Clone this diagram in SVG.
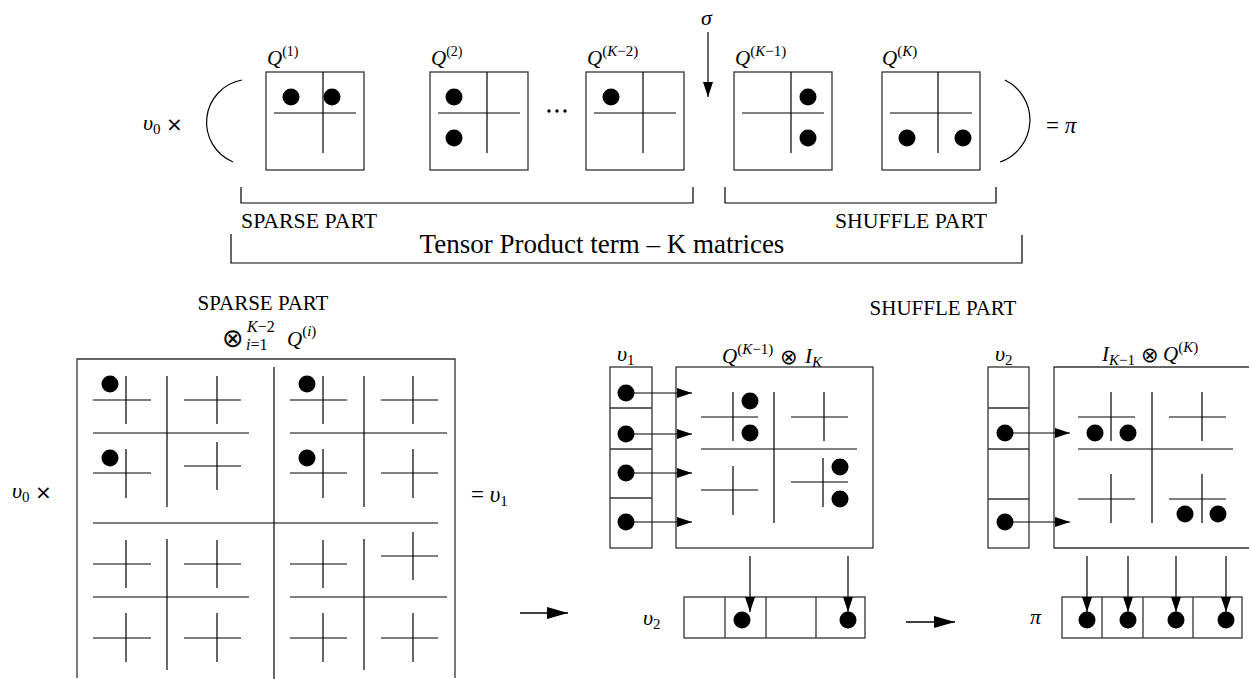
<svg xmlns="http://www.w3.org/2000/svg" width="1250" height="679" viewBox="0 0 1250 679">
  <defs>
    <style>
      .box { fill: none; stroke: #333; stroke-width: 1.3; }
      .ln { stroke: #000; stroke-width: 1.2; fill: none; }
      .dot { fill: #000; }
      .t { font-family: "Liberation Serif", "Times New Roman", serif; fill: #000; }
      .m { font-family: "Liberation Serif", "Times New Roman", serif; font-style: italic; fill: #000; }
      .r { font-family: "Liberation Serif", "Times New Roman", serif; font-style: normal; fill: #000; }
      .op { font-family: "DejaVu Sans", sans-serif; font-style: normal; fill: #000; }
      .arr { stroke: #000; stroke-width: 1.2; fill: none; marker-end: url(#head); }
      .bigarr { stroke: #000; stroke-width: 1.5; fill: none; marker-end: url(#bighead); }
    </style>
    <marker id="head" markerUnits="userSpaceOnUse" markerWidth="16" markerHeight="10" refX="15" refY="5" orient="auto">
      <path d="M0,0 L15,5 L0,10 z" fill="#000"/>
    </marker>
    <marker id="bighead" markerUnits="userSpaceOnUse" markerWidth="22" markerHeight="12" refX="21" refY="6" orient="auto">
      <path d="M0,0 L21,6 L0,12 z" fill="#000"/>
    </marker>
  </defs>
  <rect width="1250" height="679" fill="#fff"/>

  <!-- ===== top row: product of K factor matrices ===== -->
  <g id="v0-top">
    <text class="m" x="143" y="130" font-size="22">υ<tspan class="r" font-size="15" dy="4">0</tspan></text>
    <text class="op" x="166" y="131" font-size="20">×</text>
  </g>
  <g id="paren-left"><path class="ln" d="M242,80 A43,43 0 0 0 233,162"/></g>
  <g id="paren-right"><path class="ln" d="M1005,80 A44.5,44.5 0 0 1 1000,162"/></g>
  <g id="eq-pi">
    <text class="r" x="1046" y="133" font-size="23">= <tspan class="m">π</tspan></text>
  </g>

  <g id="Q1">
    <text class="m" x="267" y="65" font-size="21">Q<tspan class="r" font-size="14" dy="-9">(1)</tspan></text>
    <rect class="box" x="266" y="72" width="98" height="98"/>
    <line class="ln" x1="274" y1="113" x2="356" y2="113"/>
    <line class="ln" x1="323" y1="72" x2="323" y2="153"/>
    <circle class="dot" cx="291" cy="97" r="8.5"/>
    <circle class="dot" cx="332" cy="97" r="8.5"/>
  </g>
  <g id="Q2">
    <text class="m" x="431" y="65" font-size="21">Q<tspan class="r" font-size="14" dy="-9">(2)</tspan></text>
    <rect class="box" x="430" y="72" width="98" height="98"/>
    <line class="ln" x1="438" y1="113" x2="520" y2="113"/>
    <line class="ln" x1="487" y1="72" x2="487" y2="153"/>
    <circle class="dot" cx="454" cy="97" r="8.5"/>
    <circle class="dot" cx="454" cy="138" r="8.5"/>
  </g>
  <g id="ellipsis">
    <circle class="dot" cx="549" cy="111" r="1.7"/>
    <circle class="dot" cx="557" cy="111" r="1.7"/>
    <circle class="dot" cx="565" cy="111" r="1.7"/>
  </g>
  <g id="QK-2">
    <text class="m" x="587" y="65" font-size="21">Q<tspan class="r" font-size="15" dy="-9">(</tspan><tspan font-size="15">K</tspan><tspan class="r" font-size="15">−2)</tspan></text>
    <rect class="box" x="586" y="72" width="98" height="98"/>
    <line class="ln" x1="594" y1="113" x2="676" y2="113"/>
    <line class="ln" x1="643" y1="72" x2="643" y2="153"/>
    <circle class="dot" cx="611" cy="97" r="8.5"/>
  </g>
  <g id="sigma">
    <text class="m" x="701" y="25" font-size="22">σ</text>
  </g>
  <g id="QK-1">
    <text class="m" x="735" y="65" font-size="21">Q<tspan class="r" font-size="15" dy="-9">(</tspan><tspan font-size="15">K</tspan><tspan class="r" font-size="15">−1)</tspan></text>
    <rect class="box" x="734" y="72" width="98" height="98"/>
    <line class="ln" x1="742" y1="113" x2="824" y2="113"/>
    <line class="ln" x1="791" y1="72" x2="791" y2="153"/>
    <circle class="dot" cx="808" cy="97" r="8.5"/>
    <circle class="dot" cx="808" cy="138" r="8.5"/>
  </g>
  <g id="QK">
    <text class="m" x="882" y="65" font-size="21">Q<tspan class="r" font-size="15" dy="-9">(</tspan><tspan font-size="15">K</tspan><tspan class="r" font-size="15">)</tspan></text>
    <rect class="box" x="882" y="72" width="98" height="98"/>
    <line class="ln" x1="890" y1="113" x2="972" y2="113"/>
    <line class="ln" x1="938" y1="72" x2="938" y2="153"/>
    <circle class="dot" cx="907" cy="138" r="8.5"/>
    <circle class="dot" cx="963" cy="138" r="8.5"/>
  </g>

  <!-- braces under the factor row -->
  <g id="brace-sparse">
    <path class="ln" d="M241,187 V203 H693 V187"/>
    <text class="t" x="241" y="228" font-size="21" textLength="136" lengthAdjust="spacingAndGlyphs">SPARSE PART</text>
  </g>
  <g id="brace-shuffle">
    <path class="ln" d="M725,187 V203 H996 V187"/>
    <text class="t" x="987" y="228" font-size="21" text-anchor="end" textLength="152" lengthAdjust="spacingAndGlyphs">SHUFFLE PART</text>
  </g>
  <g id="brace-tensor">
    <path class="ln" d="M231,234 V263 H1022 V235"/>
    <text class="t" x="602" y="253" font-size="27" text-anchor="middle">Tensor Product term – K matrices</text>
  </g>

  <!-- ===== bottom left: sparse part ===== -->
  <g id="sparse-title">
    <text class="t" x="263" y="310" font-size="21" text-anchor="middle">SPARSE PART</text>
    <text class="op" x="222" y="347" font-size="26">⊗</text>
    <text class="m" x="247" y="332" font-size="16">K<tspan class="r">−2</tspan></text>
    <text class="m" x="246" y="350" font-size="16">i<tspan class="r">=1</tspan></text>
    <text class="m" x="287" y="346" font-size="21">Q<tspan class="r" font-size="15" dy="-10">(</tspan><tspan font-size="15">i</tspan><tspan class="r" font-size="15">)</tspan></text>
  </g>
  <g id="v0-bottom">
    <text class="m" x="12" y="498" font-size="22">υ<tspan class="r" font-size="15" dy="4">0</tspan></text>
    <text class="op" x="35" y="499" font-size="20">×</text>
  </g>
  <g id="sparse-matrix">
    <path class="box" d="M77,678 V359 H455 V678"/>
    <!-- level-1 split -->
    <line class="ln" x1="274" y1="367" x2="274" y2="679"/>
    <line class="ln" x1="93" y1="523" x2="438" y2="523"/>
    <!-- level-2 splits -->
    <line class="ln" x1="167" y1="376" x2="167" y2="507"/>
    <line class="ln" x1="93" y1="433" x2="249" y2="433"/>
    <line class="ln" x1="364" y1="376" x2="364" y2="507"/>
    <line class="ln" x1="290" y1="433" x2="447" y2="433"/>
    <line class="ln" x1="167" y1="539" x2="167" y2="670"/>
    <line class="ln" x1="93" y1="597" x2="249" y2="597"/>
    <line class="ln" x1="364" y1="539" x2="364" y2="670"/>
    <line class="ln" x1="290" y1="597" x2="447" y2="597"/>
    <!-- level-3 crosses, top-left quadrant -->
    <path class="ln" d="M93,400 H151 M126,376 V424"/>
    <path class="ln" d="M184,400 H241 M217,376 V424"/>
    <path class="ln" d="M93,473 H151 M126,449 V498"/>
    <path class="ln" d="M184,466 H241 M217,442 V490"/>
    <!-- top-right quadrant -->
    <path class="ln" d="M290,400 H347 M323,376 V424"/>
    <path class="ln" d="M381,400 H438 M413,376 V424"/>
    <path class="ln" d="M290,473 H347 M323,449 V498"/>
    <path class="ln" d="M381,473 H438 M413,449 V498"/>
    <!-- bottom-left quadrant -->
    <path class="ln" d="M93,564 H151 M126,540 V588"/>
    <path class="ln" d="M184,564 H241 M217,540 V588"/>
    <path class="ln" d="M93,638 H151 M126,613 V662"/>
    <path class="ln" d="M184,638 H241 M217,613 V662"/>
    <!-- bottom-right quadrant -->
    <path class="ln" d="M290,564 H347 M323,540 V588"/>
    <path class="ln" d="M381,556 H438 M413,532 V580"/>
    <path class="ln" d="M290,638 H347 M323,613 V662"/>
    <path class="ln" d="M381,638 H438 M413,613 V662"/>
    <!-- nonzeros -->
    <circle class="dot" cx="110" cy="384" r="8.5"/>
    <circle class="dot" cx="110" cy="458" r="8.5"/>
    <circle class="dot" cx="307" cy="384" r="8.5"/>
    <circle class="dot" cx="307" cy="458" r="8.5"/>
  </g>
  <g id="eq-v1">
    <text class="r" x="471" y="502" font-size="23">= <tspan class="m">υ</tspan><tspan font-size="15" dy="4">1</tspan></text>
  </g>

  <!-- ===== shuffle part ===== -->
  <g id="shuffle-title">
    <text class="t" x="943" y="315" font-size="21" text-anchor="middle">SHUFFLE PART</text>
  </g>

  <g id="v1-vector">
    <text class="m" x="617" y="361" font-size="22">υ<tspan class="r" font-size="15" dy="4">1</tspan></text>
    <rect class="box" x="610" y="367" width="42" height="181"/>
    <line class="box" x1="610" y1="408" x2="652" y2="408"/>
    <line class="box" x1="610" y1="449" x2="652" y2="449"/>
    <line class="box" x1="610" y1="498" x2="652" y2="498"/>
    <circle class="dot" cx="626" cy="393" r="8.5"/>
    <circle class="dot" cx="626" cy="434" r="8.5"/>
    <circle class="dot" cx="626" cy="473" r="8.5"/>
    <circle class="dot" cx="626" cy="522" r="8.5"/>
  </g>
  <g id="QK-1-x-IK">
    <text class="m" x="722" y="363" font-size="21">Q<tspan class="r" font-size="15" dy="-9">(</tspan><tspan font-size="15">K</tspan><tspan class="r" font-size="15">−1)</tspan></text>
    <text class="op" x="780" y="364" font-size="21">⊗</text>
    <text class="m" x="805" y="363" font-size="21">I<tspan font-size="15" dy="4">K</tspan></text>
    <rect class="box" x="676" y="367" width="197" height="181"/>
    <line class="ln" x1="774" y1="392" x2="774" y2="523"/>
    <line class="ln" x1="701" y1="449" x2="857" y2="449"/>
    <path class="ln" d="M701,417 H758 M733,392 V441"/>
    <path class="ln" d="M791,417 H848 M824,392 V441"/>
    <path class="ln" d="M701,490 H758 M733,466 V515"/>
    <path class="ln" d="M791,482 H848 M823,458 V507"/>
    <circle class="dot" cx="750" cy="401" r="8.5"/>
    <circle class="dot" cx="750" cy="433" r="8.5"/>
    <circle class="dot" cx="840" cy="467" r="8.5"/>
    <circle class="dot" cx="840" cy="499" r="8.5"/>
  </g>
  <g id="v2-row">
    <text class="m" x="643" y="625" font-size="22">υ<tspan class="r" font-size="15" dy="4">2</tspan></text>
    <rect class="box" x="684" y="597" width="181" height="41"/>
    <line class="box" x1="725" y1="597" x2="725" y2="638"/>
    <line class="box" x1="766" y1="597" x2="766" y2="638"/>
    <line class="box" x1="816" y1="597" x2="816" y2="638"/>
    <circle class="dot" cx="742" cy="620" r="8.5"/>
    <circle class="dot" cx="848" cy="620" r="8.5"/>
  </g>

  <g id="v2-vector">
    <text class="m" x="995" y="361" font-size="22">υ<tspan class="r" font-size="15" dy="4">2</tspan></text>
    <rect class="box" x="988" y="367" width="41" height="181"/>
    <line class="box" x1="988" y1="408" x2="1029" y2="408"/>
    <line class="box" x1="988" y1="449" x2="1029" y2="449"/>
    <line class="box" x1="988" y1="499" x2="1029" y2="499"/>
    <circle class="dot" cx="1005" cy="433" r="8.5"/>
    <circle class="dot" cx="1005" cy="522" r="8.5"/>
  </g>
  <g id="IK-1-x-QK">
    <text class="m" x="1102" y="361" font-size="21">I<tspan font-size="15" dy="4">K</tspan><tspan class="r" font-size="15">−1</tspan></text>
    <text class="op" x="1141" y="362" font-size="21">⊗</text>
    <text class="m" x="1163" y="361" font-size="21">Q<tspan class="r" font-size="15" dy="-9">(</tspan><tspan font-size="15">K</tspan><tspan class="r" font-size="15">)</tspan></text>
    <path class="box" d="M1249,367 H1054 V548 H1249"/>
    <line class="ln" x1="1152" y1="392" x2="1152" y2="523"/>
    <line class="ln" x1="1078" y1="449" x2="1233" y2="449"/>
    <path class="ln" d="M1078,417 H1135 M1111,392 V441"/>
    <path class="ln" d="M1169,417 H1226 M1202,392 V441"/>
    <path class="ln" d="M1078,499 H1135 M1111,474 V523"/>
    <path class="ln" d="M1169,499 H1226 M1202,474 V523"/>
    <circle class="dot" cx="1095" cy="433" r="8.5"/>
    <circle class="dot" cx="1128" cy="433" r="8.5"/>
    <circle class="dot" cx="1185" cy="514" r="8.5"/>
    <circle class="dot" cx="1218" cy="514" r="8.5"/>
  </g>
  <g id="pi-row">
    <text class="m" x="1030" y="624" font-size="22">π</text>
    <rect class="box" x="1062" y="597" width="180" height="41"/>
    <line class="box" x1="1102" y1="597" x2="1102" y2="638"/>
    <line class="box" x1="1143" y1="597" x2="1143" y2="638"/>
    <line class="box" x1="1193" y1="597" x2="1193" y2="638"/>
    <circle class="dot" cx="1087" cy="620" r="8.5"/>
    <circle class="dot" cx="1128" cy="620" r="8.5"/>
    <circle class="dot" cx="1176" cy="620" r="8.5"/>
    <circle class="dot" cx="1226" cy="620" r="8.5"/>
  </g>

  <!-- ===== connectors ===== -->
  <g id="connectors">
    <line class="arr" x1="708" y1="32" x2="708" y2="97"/>
    <!-- v1 entries into Q(K-1) x I_K -->
    <line class="arr" x1="626" y1="393" x2="692" y2="393"/>
    <line class="arr" x1="626" y1="434" x2="692" y2="434"/>
    <line class="arr" x1="626" y1="473" x2="692" y2="473"/>
    <line class="arr" x1="626" y1="522" x2="692" y2="522"/>
    <!-- result columns into v2 -->
    <line class="arr" x1="750" y1="556" x2="750" y2="612"/>
    <line class="arr" x1="848" y1="556" x2="848" y2="612"/>
    <!-- v2 entries into I_{K-1} x Q(K) -->
    <line class="arr" x1="1005" y1="433" x2="1070" y2="433"/>
    <line class="arr" x1="1005" y1="522" x2="1070" y2="522"/>
    <!-- result columns into pi -->
    <line class="arr" x1="1087" y1="556" x2="1087" y2="612"/>
    <line class="arr" x1="1128" y1="556" x2="1128" y2="612"/>
    <line class="arr" x1="1176" y1="556" x2="1176" y2="612"/>
    <line class="arr" x1="1226" y1="556" x2="1226" y2="612"/>
    <!-- stage arrows -->
    <line class="bigarr" x1="520" y1="613" x2="568" y2="613"/>
    <line class="bigarr" x1="906" y1="622" x2="955" y2="622"/>
  </g>
</svg>
